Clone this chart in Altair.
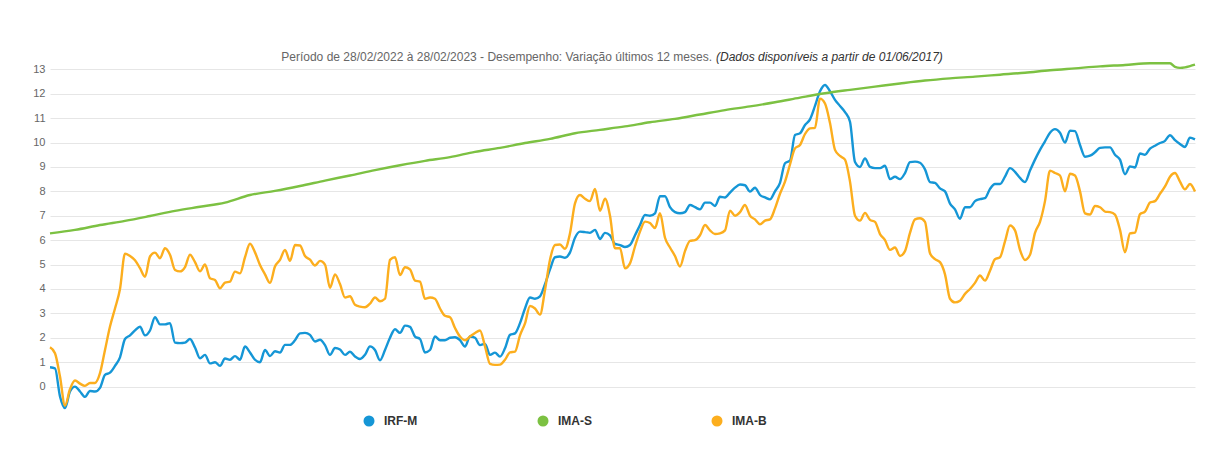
import altair as alt
import pandas as pd

SERIES = ["IRF-M", "IMA-S", "IMA-B"]
COLORS = ["#1596d6", "#7cc142", "#fcae1e"]

TITLE_MAIN = "Período de 28/02/2022 à 28/02/2023 - Desempenho: Variação últimos 12 meses."
TITLE_NOTE = "(Dados disponíveis a partir de 01/06/2017)"

Y_TICKS = list(range(0, 14))

# IRF-M, one reading per step of the day index (0..229)
irfm = [
    0.79, 0.75, -0.4, -0.88, -0.2, 0.0, -0.2, -0.42, -0.18, -0.2,
    -0.05, 0.48, 0.57, 0.85, 1.2, 1.95, 2.1, 2.3, 2.45, 2.1,
    2.3, 2.84, 2.55, 2.55, 2.6, 1.8, 1.78, 1.8, 1.95, 1.6,
    1.16, 1.3, 0.95, 1.0, 0.85, 1.15, 1.1, 1.25, 1.1, 1.64,
    1.4, 1.1, 1.0, 1.5, 1.25, 1.45, 1.4, 1.71, 1.71, 1.9,
    2.18, 2.2, 2.12, 1.85, 1.92, 1.7, 1.3, 1.58, 1.52, 1.3,
    1.43, 1.23, 1.13, 1.3, 1.65, 1.5, 1.08, 1.5, 2.0, 2.35,
    2.2, 2.5, 2.45, 2.05, 1.95, 1.4, 1.5, 2.05, 1.9, 1.9,
    2.0, 2.02, 1.9, 1.64, 2.05, 2.0, 1.7, 1.75, 1.3, 1.39,
    1.23, 1.57, 2.12, 2.18, 2.6, 3.2, 3.65, 3.6, 3.7, 4.2,
    4.8, 5.3, 5.33, 5.28, 5.5, 6.1, 6.35, 6.33, 6.3, 6.42,
    6.05, 6.3, 6.2, 5.85, 5.8, 5.72, 5.8, 6.2, 6.62, 7.03,
    7.0, 7.1, 7.8, 7.8, 7.35, 7.15, 7.1, 7.15, 7.44, 7.35,
    7.26, 7.54, 7.54, 7.4, 7.78, 7.75, 7.95, 8.15, 8.28, 8.25,
    7.99, 8.15, 7.85, 7.75, 7.67, 8.0, 8.35, 9.15, 9.26, 10.31,
    10.38, 10.72, 10.95, 11.5, 12.1, 12.36, 12.1, 11.75, 11.5, 11.25,
    10.85, 9.2, 9.0, 9.35, 9.0, 8.95, 8.95, 9.05, 8.5, 8.6,
    8.5, 8.75, 9.2, 9.22, 9.17, 8.9, 8.38, 8.35, 8.12, 8.0,
    7.5, 7.26, 6.88, 7.35, 7.35, 7.6, 7.68, 7.72, 8.1, 8.3,
    8.3, 8.6, 8.95, 8.8, 8.55, 8.38, 8.85, 9.3, 9.7, 10.05,
    10.4, 10.55, 10.4, 10.0, 10.49, 10.47, 9.9, 9.42, 9.46, 9.6,
    9.78, 9.8, 9.8, 9.5, 9.3, 8.7, 9.02, 8.98, 9.55, 9.5,
    9.75, 9.87, 9.98, 10.07, 10.3, 10.1, 9.94, 9.82, 10.2, 10.13,
]

# IMA-B, same day index
imab = [
    1.61, 1.37, 0.41, -0.78, -0.1, 0.25, 0.12, 0.03, 0.15, 0.15,
    0.55, 1.5, 2.46, 3.2, 4.0, 5.45, 5.35, 5.18, 4.85, 4.5,
    5.33, 5.49, 5.26, 5.67, 5.4, 4.78, 4.72, 4.9, 5.4, 5.1,
    4.72, 5.0, 4.44, 4.37, 4.03, 4.26, 4.3, 4.71, 4.64, 5.3,
    5.85, 5.5, 4.98, 4.6, 4.25, 4.92, 5.19, 5.6, 5.15, 5.8,
    5.78, 5.35, 5.2, 4.96, 5.15, 5.0, 4.05, 4.6, 4.2, 3.65,
    3.7, 3.35, 3.28, 3.25, 3.4, 3.65, 3.5, 3.6, 5.19, 5.3,
    4.57, 4.89, 4.8, 4.34, 4.3, 3.6, 3.65, 3.6, 3.2, 2.9,
    2.84, 2.4, 2.05, 1.9, 2.05, 2.2, 2.3, 1.65, 0.93, 0.89,
    0.9, 1.1, 1.4, 1.43, 2.1, 2.59, 3.3, 3.2, 2.95, 3.96,
    5.2, 5.8, 5.82, 5.65, 6.28, 7.51, 7.85, 7.7, 7.6, 8.1,
    7.2, 7.7, 7.0, 5.67, 5.67, 4.85, 5.05, 5.74, 6.35, 6.76,
    6.7, 6.5, 7.1, 6.1, 5.7, 5.35, 4.92, 5.55, 5.97, 6.0,
    6.2, 6.62, 6.4, 6.25, 6.28, 6.4, 7.21, 7.0, 7.15, 7.44,
    7.0, 6.85, 6.65, 6.8, 6.85, 7.3, 7.9, 8.4, 9.1, 9.76,
    9.9, 10.35, 10.58, 10.6, 11.8, 11.6, 10.8, 9.7, 9.45, 9.3,
    8.4, 7.0, 6.8, 7.12, 6.83, 6.75, 6.25, 6.0, 5.6, 5.7,
    5.35, 5.55, 6.3, 6.85, 6.9, 6.75, 5.46, 5.22, 5.1, 4.6,
    3.6, 3.45, 3.52, 3.8, 4.0, 4.25, 4.55, 4.34, 4.75, 5.22,
    5.3, 5.95, 6.6, 6.4, 5.6, 5.19, 5.4, 6.3, 6.75, 7.6,
    8.85, 8.75, 8.65, 8.0, 8.72, 8.65, 8.0, 7.1, 7.05, 7.4,
    7.35, 7.17, 7.15, 7.05, 6.42, 5.5, 6.28, 6.31, 7.07, 7.17,
    7.54, 7.6, 7.9, 8.2, 8.6, 8.75, 8.4, 8.08, 8.3, 7.99,
]

# IMA-S, read at fewer days (it is smooth)
imas_days = [
    0, 5, 10, 15, 20, 25, 30, 35, 40, 45,
    50, 55, 60, 65, 70, 75, 80, 85, 90, 95,
    100, 105, 110, 115, 120, 125, 130, 135, 140, 145,
    150, 155, 160, 165, 170, 175, 180, 185, 190, 195,
    200, 205, 210, 215, 220, 224, 225, 226, 227, 228, 229,
]
imas = [
    6.28, 6.42, 6.62, 6.79, 6.99, 7.2, 7.37, 7.54, 7.85, 8.02,
    8.22, 8.44, 8.65, 8.87, 9.07, 9.25, 9.4, 9.62, 9.78, 9.98,
    10.15, 10.38, 10.52, 10.66, 10.83, 10.97, 11.15, 11.33, 11.48, 11.65,
    11.84, 12.02, 12.16, 12.29, 12.42, 12.54, 12.63, 12.7, 12.78, 12.86,
    12.96, 13.04, 13.12, 13.18, 13.25, 13.25, 13.1, 13.06, 13.08, 13.13, 13.19,
]

rows = []
for i, v in enumerate(irfm):
    rows.append({"dia": i, "valor": v, "indice": "IRF-M"})
for d, v in zip(imas_days, imas):
    rows.append({"dia": d, "valor": v, "indice": "IMA-S"})
for i, v in enumerate(imab):
    rows.append({"dia": i, "valor": v, "indice": "IMA-B"})
df = pd.DataFrame(rows)

n_days = len(irfm) - 1

x_enc = alt.X("dia:Q", scale=alt.Scale(domain=[0, n_days], nice=False, zero=False), axis=None)
y_enc = alt.Y(
    "valor:Q",
    scale=alt.Scale(domain=[-1, 13.3], nice=False, zero=False),
    axis=alt.Axis(
        values=Y_TICKS,
        grid=True,
        gridColor="#e6e6e6",
        gridWidth=1,
        domain=False,
        ticks=False,
        labelColor="#666666",
        labelFontSize=11,
        labelFont="Liberation Sans",
        labelPadding=5,
        title=None,
    ),
)
color_enc = alt.Color(
    "indice:N",
    scale=alt.Scale(domain=SERIES, range=COLORS),
    sort=SERIES,
    legend=alt.Legend(
        title=None,
        orient="none",
        legendX=313,
        legendY=353,
        direction="horizontal",
        symbolType="circle",
        symbolSize=121,
        symbolStrokeWidth=0,
        labelFont="Liberation Sans",
        labelFontSize=12,
        labelFontWeight="bold",
        labelColor="#333333",
        labelOffset=9,
        columnPadding=119,
        padding=0,
    ),
)

lines = alt.Chart(df).mark_line(strokeWidth=2.4, interpolate="monotone").encode(
    x=x_enc,
    y=y_enc,
    color=color_enc,
    detail="indice:N",
    order=alt.Order("dia:Q"),
)

legend_pts = alt.Chart(df).mark_point(filled=True, opacity=1).encode(
    x=x_enc, y=y_enc, color=color_enc
).transform_filter("false")

title_main = alt.Chart(pd.DataFrame({"t": [TITLE_MAIN]})).mark_text(
    align="right", baseline="middle", font="Liberation Sans", fontSize=12, color="#666666"
).encode(x=alt.value(662), y=alt.value(-5), text="t:N")

title_note = alt.Chart(pd.DataFrame({"t": [TITLE_NOTE]})).mark_text(
    align="left", baseline="middle", font="Liberation Sans", fontSize=12,
    fontStyle="italic", color="#333333"
).encode(x=alt.value(666), y=alt.value(-5), text="t:N")

chart = alt.layer(lines, legend_pts, title_main, title_note).properties(
    width=1145,
    height=349,
    autosize=alt.AutoSizeParams(type="none"),
    padding={"left": 42, "top": 54, "right": 25, "bottom": 30},
    background="white",
).configure_view(stroke=None)

chart.save("out.html", embed_options={"renderer": "svg", "actions": False})
